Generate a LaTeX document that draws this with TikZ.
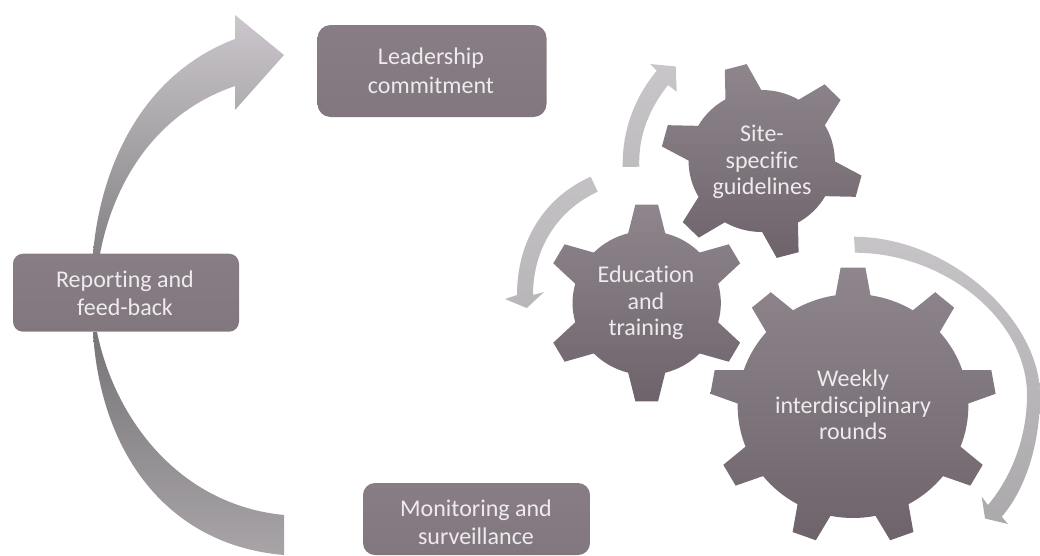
\documentclass[tikz,border=0pt]{standalone}
\usepackage{fontspec}
\setmainfont[Ligatures=NoCommon]{Carlito}
\definecolor{boxtop}{HTML}{887D85}
\definecolor{boxbot}{HTML}{82777F}
\definecolor{geartop}{HTML}{8F868D}
\definecolor{gearbot}{HTML}{6E636B}
\definecolor{txt}{HTML}{EDEBED}
\tikzset{
  boxnode/.style={rounded corners=#1,top color=boxtop,bottom color=boxbot,draw=none},
  gearfill/.style={top color=geartop,bottom color=gearbot,draw=none},
  label/.style={text=txt,align=center,font=\fontsize{24}{28.5}\selectfont,inner sep=0pt},
  gearlabel/.style={label,font=\fontsize{24}{26.5}\selectfont},
}
% centre x, centre y (from the top), root radius, tip radius, teeth, first angle, root half-width, tip half-width
\newcommand\geardraw[8]{%
  \pgfmathsetmacro\gstep{360/#5}%
  \pgfmathsetmacro\gda{asin(#7/#3)}%
  \pgfmathsetmacro\gdb{asin(#8/#4)}%
  \pgfmathsetmacro\gstart{#6-\gda}%
  \shade[gearfill,shift={(#1,#2)},xscale=1.03] (\gstart:#3pt)
    \foreach \k [evaluate=\k as \a using #6+(\k-1)*\gstep] in {1,...,#5}{
      -- ({\a-\gdb}:#4pt) -- ({\a+\gdb}:#4pt) -- ({\a+\gda}:#3pt)
      arc[start angle={\a+\gda},end angle={\a+\gstep-\gda},radius=#3pt]
    } -- cycle;%
}
\begin{document}
\begin{tikzpicture}[x=1pt,y=-1pt]
\useasboundingbox (0,0) rectangle (1040,555);
% big arrow up
\shade[top color={rgb,255:red,203;green,199;blue,204},bottom color={rgb,255:red,134;green,131;blue,134}]
  (93,254) .. controls (100,170) and (140,75) .. (235,39)
  -- (235,15) -- (284,55) -- (235,110) -- (235,86)
  .. controls (150,115) and (112,190) .. (100,254) -- cycle;
% big crescent below
\shade[top color={rgb,255:red,120;green,117;blue,120},bottom color={rgb,255:red,168;green,164;blue,167}]
  (93,332) .. controls (100,450) and (165,545) .. (284,555)
  -- (284,515) .. controls (180,505) and (115,420) .. (97,332) -- cycle;
% small arrows
\shade[top color={rgb,255:red,200;green,198;blue,201},bottom color={rgb,255:red,190;green,188;blue,190}]
  (622.7,167) .. controls (622,130) and (635,97) .. (656.7,70.7)
  -- (650,64) -- (675.7,66.5) -- (676.7,91.7) -- (668,85)
  .. controls (650,108) and (638,135) .. (639.3,166.7) -- cycle;
\shade[top color={rgb,255:red,195;green,193;blue,196},bottom color={rgb,255:red,184;green,182;blue,185}]
  (590.7,176.7) .. controls (545,197) and (517,240) .. (517,295)
  -- (505,299) -- (526.7,308) -- (544,292) -- (533,295)
  .. controls (533,248) and (558,210) .. (597.7,191.7) -- cycle;
\shade[top color={rgb,255:red,198;green,196;blue,199},bottom color={rgb,255:red,172;green,169;blue,172}]
  (854,236.7) .. controls (950,237) and (1040,320) .. (1040,395)
  .. controls (1040,445) and (1025,490) .. (1001.7,516.7)
  -- (1008,524) -- (985,518.5) -- (981.7,496.7) -- (988,505)
  .. controls (1013,475) and (1027,435) .. (1027,395)
  .. controls (1027,320) and (945,253) .. (855,252.7) -- cycle;
% gears
\geardraw{761.7}{161}{71}{98}{6}{105}{18}{11}
\geardraw{646.7}{303}{72}{99}{6}{90}{18}{11}
\geardraw{853}{406}{112}{139}{9}{90}{17}{12}
% boxes
\node[boxnode=13pt,minimum width=229pt,minimum height=92pt,anchor=center] (lead) at (432,71) {};
\node[boxnode=10pt,minimum width=226pt,minimum height=78pt,anchor=center] (rep) at (126,292.7) {};
\node[boxnode=12pt,minimum width=227pt,minimum height=72pt,anchor=center] (mon) at (476.5,519) {};
\node[label] (leadt) at (431,71) {Leadership\\commitment};
\node[label] (rept) at (125,293) {Reporting and\\feed-back};
\node[label] (mont) at (476,522) {Monitoring and\\surveillance};
\node[gearlabel] (sitet) at (762,162) {Site-\\specific\\guidelines};
\node[gearlabel] (edut) at (646,303) {Education\\and\\training};
\node[gearlabel] (weekt) at (853,405) {Weekly\\interdisciplinary\\rounds};
\end{tikzpicture}
\end{document}
